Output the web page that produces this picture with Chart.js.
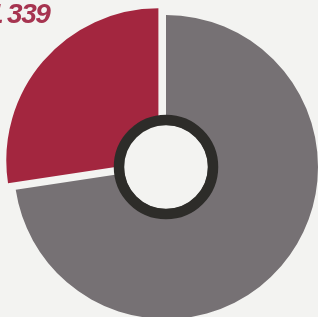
<!DOCTYPE html>
<html>
<head>
<meta charset="utf-8">
<script src="https://cdn.jsdelivr.net/npm/chart.js@4"></script>
<style>
  html, body { margin: 0; padding: 0; background: #f3f3f1; overflow: hidden; width: 318px; height: 317px; }
  #label { position: absolute; left: -12px; top: 0; font: italic bold 28px "Liberation Sans", Arial, sans-serif;
           line-height: 28px; letter-spacing: -1.5px; color: #a63450; white-space: nowrap; }
  #label span { margin-right: 5px; }
  #myChart { position: absolute; left: 0; top: 0; }
</style>
</head>
<body>
<canvas id="myChart" width="332" height="334"></canvas>
<div id="label"><span>1</span>339</div>
<script>
const labels = ['Other', 'Share'];
const values = [72.6, 27.4];
const colors = ['#767174', '#a3263f'];

// dark ring + white hole in the middle
const centerRing = {
  id: 'centerRing',
  afterDatasetsDraw(chart) {
    const arc = chart.getDatasetMeta(0).data[0];
    const c = chart.ctx;
    c.save();
    c.beginPath();
    c.arc(arc.x, arc.y, 42, 0, Math.PI * 2);
    c.fillStyle = '#f3f3f1';
    c.fill();
    c.beginPath();
    c.arc(arc.x, arc.y, 47, 0, Math.PI * 2);
    c.lineWidth = 10.5;
    c.strokeStyle = '#2d2c29';
    c.stroke();
    c.restore();
  }
};

const ctx = document.getElementById('myChart');

new Chart(ctx, {
  type: 'doughnut',
  data: {
    labels: labels,
    datasets: [{
      data: values,
      backgroundColor: colors,
      borderWidth: 0,
      offset: [0, 40]
    }]
  },
  options: {
    responsive: false,
    animation: false,
    radius: 152,
    cutout: 40,
    layout: { padding: 0 },
    plugins: {
      legend: { display: false },
      tooltip: { enabled: false }
    }
  },
  plugins: [centerRing]
});
</script>
</body>
</html>
